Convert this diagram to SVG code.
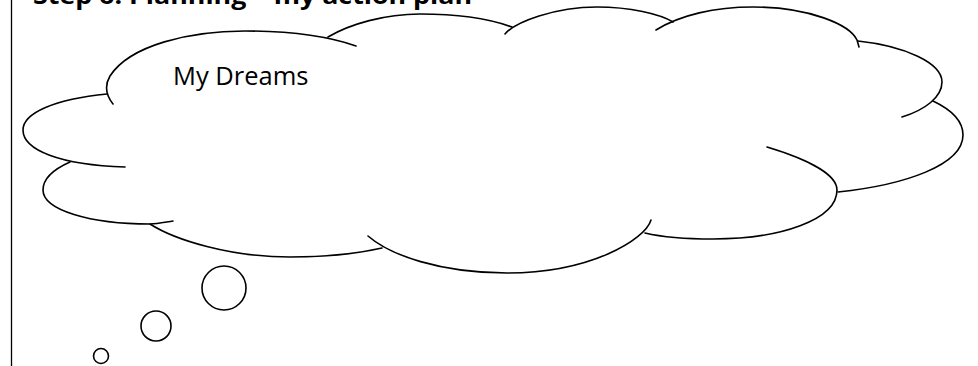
<svg xmlns="http://www.w3.org/2000/svg" width="978" height="366" viewBox="0 0 978 366">
<style>
.ln{fill:none;stroke:#000;stroke-width:1.6;stroke-linecap:round}
.bub{fill:none;stroke:#000;stroke-width:1.6}
.title{font-family:"Open Sans","Liberation Sans",sans-serif;font-weight:bold;font-size:24px;fill:#000}
.lbl{font-family:"Open Sans","Liberation Sans",sans-serif;font-size:25.5px;fill:#000}
</style>
<rect width="978" height="366" fill="#fff"/>
<line x1="11.5" y1="0" x2="11.5" y2="366" stroke="#000" stroke-width="1.3"/>
<text class="title" x="33" y="4" textLength="439" lengthAdjust="spacingAndGlyphs">Step 6: Planning – my action plan</text>
<g id="cloud">
<path class="ln" d="M113,104 C106,95 104,86 110,76 C130,45 190,31 245,31 C290,31 330,37 356,46"/>
<path class="ln" d="M328,37 C350,24 385,14 420,14 C460,14 490,19 512,27"/>
<path class="ln" d="M505,34 C515,22 555,7 597,7 C630,7 660,14 673,22"/>
<path class="ln" d="M656,30 C680,15 715,7 753,7 C810,7 850,25 857,40 L859,47"/>
<path class="ln" d="M858,41 C905,46 942,63 942,82 C942,97 925,110 902,117"/>
<path class="ln" d="M933,101 C952,110 963,122 963,135 C963,165 905,185 838,192"/>
<path class="ln" d="M767,147 C810,160 837,175 837,190 C837,220 780,239 713,239 C685,239 662,237 645,233"/>
<path class="ln" d="M651,220 C645,240 590,273 507,273 C440,273 390,255 368,236"/>
<path class="ln" d="M150,224 C175,240 230,257 290,257 C330,257 360,253 382,248"/>
<path class="ln" d="M70,162 C52,170 43,180 43,190 C43,210 90,224 150,224 C158,224 166,222 173,221"/>
<path class="ln" d="M107,94 C55,99 23,113 23,130 C23,150 60,165 125,167"/>
</g>
<g id="label"><text class="lbl" x="173" y="85">My Dreams</text></g>
<g id="bubble1"><circle class="bub" cx="224" cy="288" r="22"/></g>
<g id="bubble2"><circle class="bub" cx="156" cy="326" r="15"/></g>
<g id="bubble3"><circle class="bub" cx="101" cy="356" r="7.5"/></g>
</svg>
